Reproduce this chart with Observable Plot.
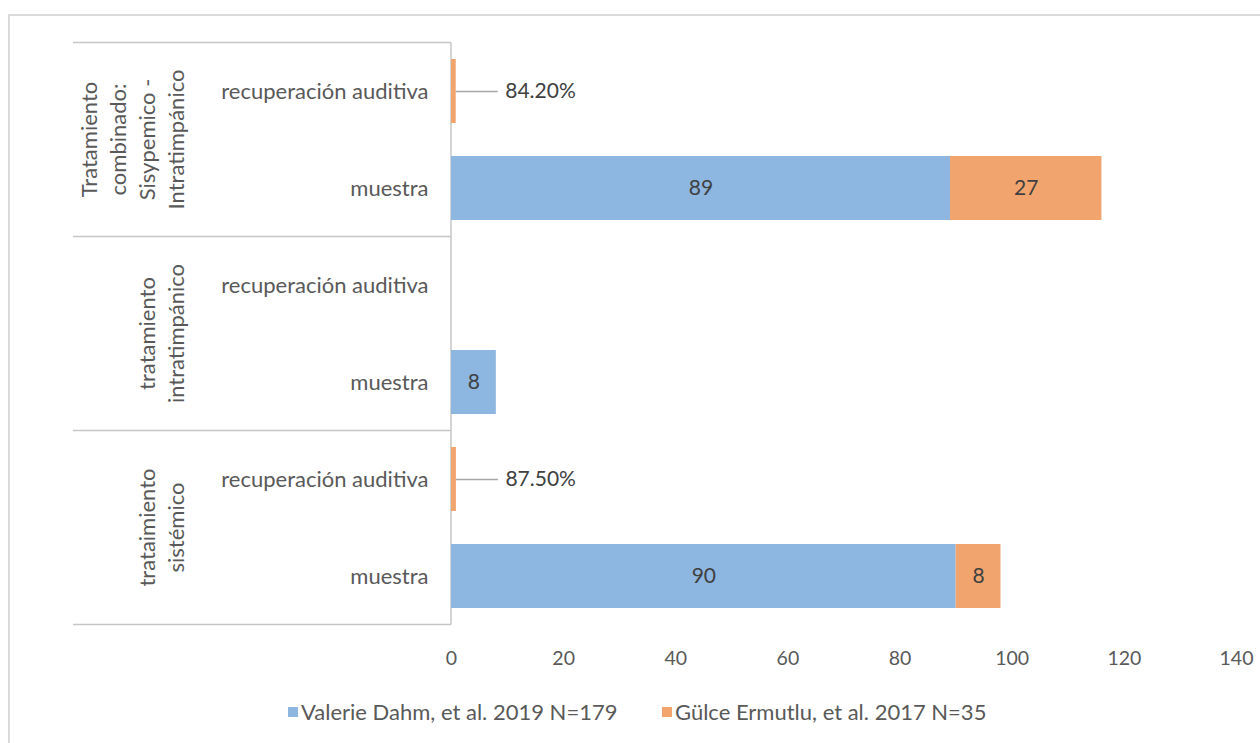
<!DOCTYPE html>
<html><head><meta charset="utf-8">
<script src="https://cdn.jsdelivr.net/npm/d3@7"></script>
<script src="https://cdn.jsdelivr.net/npm/@observablehq/plot@0.6"></script>
<style>
html,body{margin:0;padding:0;background:#fff;}
#wrap{position:relative;width:1260px;height:743px;overflow:hidden;font-family:Lato,sans-serif;}
#border{position:absolute;left:8px;top:14px;width:1400px;height:900px;border-left:2px solid #D9D9D9;border-top:2px solid #D9D9D9;}
#chart{position:absolute;left:0;top:0;}
#legend{position:absolute;left:288px;top:700px;height:24px;width:900px;font-size:22px;line-height:24px;color:#595959;white-space:nowrap;}
.sw{position:absolute;top:7px;width:10px;height:10px;}
.lt{position:absolute;top:0;}
</style></head><body>
<div id="wrap"><div id="border"></div><div id="chart"></div><div id="legend"></div></div>
<script>
// ---- data ----
const groupNames = ["Tratamiento combinado: Sisypemico - Intratimpánico", "tratamiento intratimpánico", "trataimiento sistémico"];
const groupLabelLines = [["Tratamiento", "combinado:", "Sisypemico -", "Intratimpánico"], ["tratamiento", "intratimpánico"], ["trataimiento", "sistémico"]];
const measures = ["recuperación auditiva", "muestra"];
const seriesNames = ["Valerie Dahm, et al. 2019 N=179", "Gülce Ermutlu, et al. 2017 N=35"];
// values per group: [recuperación auditiva, muestra]
const dahmValues = [[null, 89], [null, 8], [null, 90]];
const ermutluValues = [[0.842, 27], [null, null], [0.875, 8]];
const xTicks = [0, 20, 40, 60, 80, 100, 120, 140];
const seriesColors = ["#8DB6E0", "#F2A46E"];

// ---- table ----
const rowKeys = [];
groupNames.forEach((g, gi) => measures.forEach(m => rowKeys.push(gi + "|" + m)));
const table = [];
[dahmValues, ermutluValues].forEach((vals, si) => {
  vals.forEach((pair, gi) => pair.forEach((v, mi) => {
    if (v != null) table.push({series: seriesNames[si], group: groupNames[gi], measure: measures[mi], row: gi + "|" + measures[mi], value: v});
  }));
});
const countRows = table.filter(d => d.measure === "muestra");
const pctRows = table.filter(d => d.measure === "recuperación auditiva");

const axisColor = "#C6C6C6";
const textColor = "#595959";
const labelColor = "#404040";

function groupedAxis(index, scales, values, dimensions) {
  const y = scales.y;
  const bw = typeof y.bandwidth === "function" ? y.bandwidth() : y.bandwidth;
  const centers = rowKeys.map(k => y(k) + bw / 2);
  const step = centers[1] - centers[0];
  const left = dimensions.marginLeft;
  const boxLeft = 73;
  const g = d3.create("svg:g").attr("aria-label", "grouped y axis");
  const edges = [centers[0] - step / 2];
  groupNames.forEach((n, gi) => edges.push(centers[gi * measures.length + measures.length - 1] + step / 2));
  edges.forEach(e => g.append("line").attr("x1", boxLeft).attr("x2", left).attr("y1", e).attr("y2", e)
    .attr("stroke", axisColor).attr("stroke-width", 1.5));
  g.append("line").attr("x1", left).attr("x2", left).attr("y1", edges[0]).attr("y2", edges[edges.length - 1])
    .attr("stroke", axisColor).attr("stroke-width", 1.5);
  const lastBaseline = 184, lineStep = 29;
  groupLabelLines.forEach((lines, gi) => {
    const yc = (edges[gi] + edges[gi + 1]) / 2;
    const t = g.append("text")
      .attr("transform", `translate(${lastBaseline - lineStep * (lines.length - 1)},${yc}) rotate(-90)`)
      .attr("text-anchor", "middle").attr("font-size", 22).attr("fill", textColor);
    lines.forEach((l, i) => t.append("tspan").attr("x", 0).attr("dy", i ? lineStep : 0).text(l));
  });
  return g.node();
}

const chart = Plot.plot({
  width: 1260,
  height: 690,
  marginTop: 40,
  marginBottom: 63,
  marginLeft: 451,
  marginRight: 24,
  style: {fontFamily: "Lato, sans-serif", color: textColor, background: "transparent"},
  x: {domain: [0, 140]},
  y: {domain: rowKeys, paddingInner: 0.345, paddingOuter: 0.1725},
  color: {domain: seriesNames, range: seriesColors},
  marks: [
    groupedAxis,
    Plot.axisX({ticks: xTicks, tickSize: 0, tickPadding: 24, fontSize: 19.5, label: null}),
    Plot.axisY({tickSize: 0, tickPadding: 23, fontSize: 22, label: null, tickFormat: k => k.split("|")[1]}),
    Plot.barX(table, Plot.stackX({x: "value", y: "row", fill: "series"})),
    Plot.text(countRows, Plot.stackX({x: "value", y: "row", z: "series", text: d => String(d.value), fontSize: 21, fill: labelColor})),
    Plot.ruleY(pctRows, {x1: "value", x2: "value", y: "row", insetRight: -42, stroke: "#A6A6A6", strokeWidth: 1.5}),
    Plot.text(pctRows, {x: "value", y: "row", text: d => d3.format(".2%")(d.value), textAnchor: "start", dx: 49, fontSize: 21, fill: labelColor})
  ]
});
document.getElementById("chart").appendChild(chart);

// legend
const legend = document.getElementById("legend");
const legendOffsets = [0, 374];
seriesNames.forEach((name, i) => {
  const sw = document.createElement("span");
  sw.className = "sw"; sw.style.left = legendOffsets[i] + "px"; sw.style.background = seriesColors[i];
  const lt = document.createElement("span");
  lt.className = "lt"; lt.style.left = (legendOffsets[i] + 13) + "px"; lt.textContent = name;
  legend.appendChild(sw); legend.appendChild(lt);
});
</script>
</body></html>
